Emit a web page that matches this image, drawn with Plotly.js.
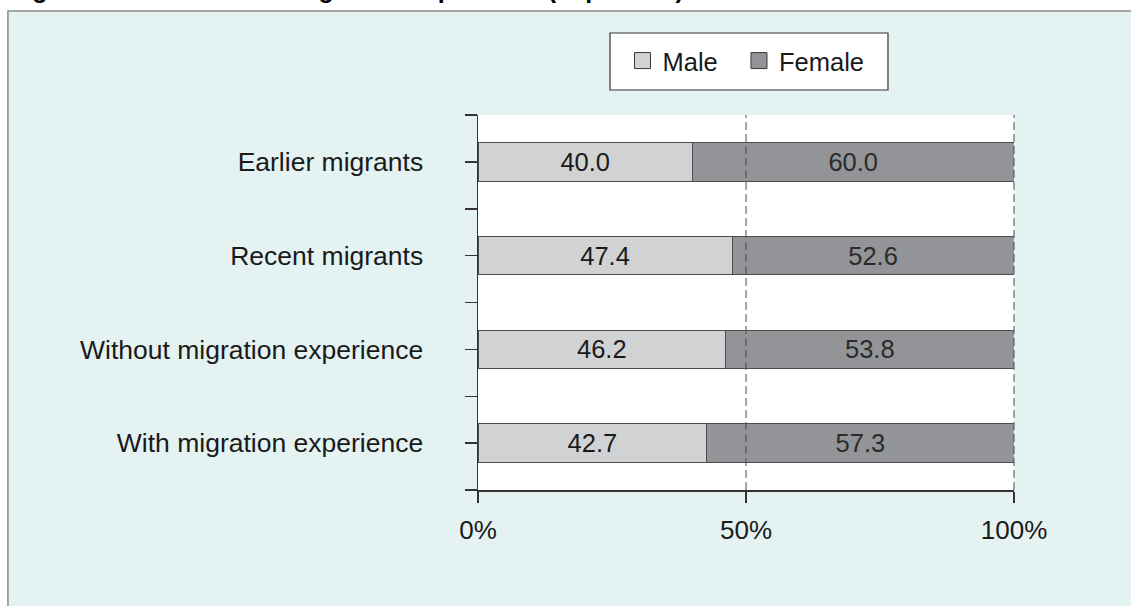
<!DOCTYPE html>
<html>
<head>
<meta charset="utf-8">
<script src="https://cdn.plot.ly/plotly-3.0.1.min.js"></script>
<style>
html,body{margin:0;padding:0;background:#fff;}
#chart{width:1131px;height:606px;}
</style>
</head>
<body>
<div id="chart"></div>
<script>
const categories = ["Earlier migrants", "Recent migrants", "Without migration experience", "With migration experience"];
const maleValues = [40.0, 47.4, 46.2, 42.7];
const femaleValues = [60.0, 52.6, 53.8, 57.3];
const seriesNames = ["Male", "Female"];
const seriesColors = ["#d1d2d4", "#929497"];
const xTickVals = [0, 50, 100];
const xRange = [0, 100];
const titleText = "Figure 4.2: Gender and migration experience (in percent)";

const idx = categories.map((c, i) => i);
const tickVals = [];
const tickText = [];
for (let i = 0; i < categories.length; i++) {
  tickVals.push(i - 0.5); tickText.push("");
  tickVals.push(i); tickText.push(categories[i]);
}
tickVals.push(categories.length - 0.5); tickText.push("");

const FONT = "Arial, 'Liberation Sans', sans-serif";

const traces = [
  {
    type: "bar", orientation: "h", name: seriesNames[0], showlegend: false,
    x: maleValues, y: idx,
    marker: {color: seriesColors[0], line: {color: "#4d4d4d", width: 1}},
    texttemplate: "%{x:.1f}", textposition: "inside", insidetextanchor: "middle",
    constraintext: "none",
    textfont: {family: FONT, size: 25.5, color: "#1a1a1a"},
    hoverinfo: "skip"
  },
  {
    type: "bar", orientation: "h", name: seriesNames[1], showlegend: false,
    x: femaleValues, y: idx,
    marker: {color: seriesColors[1], line: {color: "#4d4d4d", width: 1}},
    texttemplate: "%{x:.1f}", textposition: "inside", insidetextanchor: "middle",
    constraintext: "none",
    textfont: {family: FONT, size: 25.5, color: "#2b2b2b"},
    hoverinfo: "skip"
  }
];
// legend entries (square swatches), one legend per series
const legendIds = ["legend", "legend2"];
seriesNames.forEach((n, i) => {
  traces.push({
    type: "scatter", mode: "markers", name: n, x: [null], y: [null],
    legend: legendIds[i],
    marker: {symbol: "square", size: 17, color: seriesColors[i], line: {color: "#3a3a3a", width: 1}},
    showlegend: true, hoverinfo: "skip"
  });
});

const shapes = [
  {type: "rect", layer: "below", xref: "paper", yref: "paper",
   x0: -0.877, x1: 1.3, y0: -0.4, y1: 1.2773,
   fillcolor: "#e4f2f2", line: {color: "#8a8a8a", width: 1.5}},
  {type: "rect", layer: "below", xref: "paper", yref: "paper",
   x0: 0, x1: 1, y0: 0, y1: 1,
   fillcolor: "#ffffff", line: {width: 0}},
  {type: "rect", layer: "below", xref: "paper", yref: "paper",
   x0: 0.2463, x1: 0.7649, y0: 1.0667, y1: 1.2187,
   fillcolor: "#ffffff", line: {color: "#333333", width: 1.2}}
];
// dashed gridlines at the x tick values (except the axis at 0)
xTickVals.filter(v => v > xRange[0]).forEach(v => {
  const px = (v - xRange[0]) / (xRange[1] - xRange[0]);
  shapes.push({type: "line", layer: "above", xref: "paper", yref: "paper",
    x0: px, x1: px, y0: 0, y1: 1,
    line: {color: "#4d4d4d", width: 1, dash: "8px,4px"}});
});

const legendBase = {
  orientation: "h", y: 1.144, xanchor: "left", yanchor: "middle",
  bgcolor: "rgba(0,0,0,0)", borderwidth: 0,
  font: {family: FONT, size: 25.5, color: "#1a1a1a"},
  itemclick: false
};

const layout = {
  width: 1131, height: 606,
  margin: {l: 478, r: 117, t: 115, b: 116, pad: 0},
  paper_bgcolor: "#ffffff",
  plot_bgcolor: "rgba(0,0,0,0)",
  barmode: "stack",
  bargap: 0.59,
  font: {family: FONT, color: "#1a1a1a"},
  showlegend: true,
  legend: Object.assign({}, legendBase, {x: 0.2696}),
  legend2: Object.assign({}, legendBase, {x: 0.4869}),
  xaxis: {
    range: xRange, tickmode: "array", tickvals: xTickVals,
    ticktext: xTickVals.map(v => v + "%"),
    showline: true, linecolor: "#333333", linewidth: 1.5,
    ticks: "outside", ticklen: 11, tickcolor: "#333333", tickwidth: 1.5,
    showgrid: false, zeroline: false,
    tickfont: {family: FONT, size: 26, color: "#1a1a1a"},
    ticklabelstandoff: 5, fixedrange: true
  },
  yaxis: {
    range: [categories.length - 0.5, -0.5],
    tickmode: "array", tickvals: tickVals, ticktext: tickText,
    showline: true, linecolor: "#333333", linewidth: 1.5,
    ticks: "outside", ticklen: 12, tickcolor: "#333333", tickwidth: 1.5,
    showgrid: false, zeroline: false,
    tickfont: {family: FONT, size: 26.5, color: "#1a1a1a"},
    ticklabelstandoff: 36, fixedrange: true
  },
  shapes: shapes,
  annotations: [
    {text: "<b>" + titleText + "</b>", xref: "paper", yref: "paper",
     x: (8 - 478) / 536, y: 1.2933, xanchor: "left", yanchor: "bottom", showarrow: false,
     font: {family: FONT, size: 25, color: "#000000"}}
  ]
};

Plotly.newPlot("chart", traces, layout, {displayModeBar: false, staticPlot: true});
</script>
</body>
</html>
